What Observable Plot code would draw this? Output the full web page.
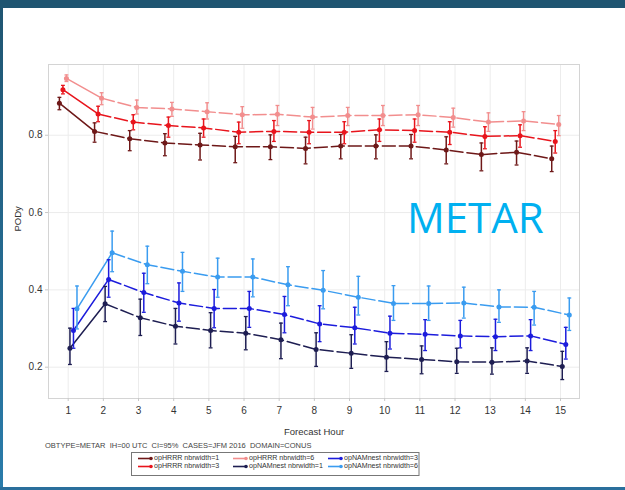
<!DOCTYPE html>
<html>
<head>
<meta charset="utf-8">
<script src="https://cdn.jsdelivr.net/npm/d3@7"></script>
<script src="https://cdn.jsdelivr.net/npm/@observablehq/plot@0.6"></script>
<style>
  html, body { margin: 0; padding: 0; background: #fff; }
  #page { position: relative; width: 625px; height: 490px; overflow: hidden; background: #fff;
          font-family: "Liberation Sans", Arial, sans-serif; }
  #topbar { position: absolute; left: 0; top: 0; width: 625px; height: 8px; background: #1f5571; }
  #leftbar { position: absolute; left: 0; top: 0; width: 3px; height: 490px;
             background: linear-gradient(#1f5571, #2a7cab); }
  #bottombar { position: absolute; left: 0; top: 487px; width: 625px; height: 3px; background: #2a6f9c; }
  #chart { position: absolute; left: 0; top: 0; }
  #below { position: absolute; left: 0; top: 440px; }
  #stamp { position: absolute; left: 0; top: 0; pointer-events: none; }
</style>
</head>
<body>
<div id="page">
  <div id="chart"></div>
  <svg id="below" width="625" height="50"></svg>
  <svg id="stamp" width="625" height="440">
    <text x="407" y="233" font-family="'Open Sans', sans-serif" font-size="42" fill="#00b0f0">METAR</text>
  </svg>
  <div id="topbar"></div>
  <div id="leftbar"></div>
  <div id="bottombar"></div>
</div>
<script>
// Forecast hours and PODy (probability of detection, yes) with 95% CI bounds
const hours = [1, 2, 3, 4, 5, 6, 7, 8, 9, 10, 11, 12, 13, 14, 15];

const hrrr1   = [0.883, 0.810, 0.791, 0.780, 0.775, 0.770, 0.770, 0.766, 0.772, 0.772, 0.772, 0.762, 0.750, 0.756, 0.739];
const hrrr1Lo = [0.866, 0.782, 0.760, 0.747, 0.736, 0.729, 0.737, 0.726, 0.739, 0.739, 0.739, 0.726, 0.708, 0.723, 0.706];
const hrrr1Hi = [0.898, 0.832, 0.812, 0.804, 0.805, 0.797, 0.801, 0.795, 0.802, 0.801, 0.802, 0.796, 0.780, 0.785, 0.772];

const hrrr3   = [0.918, 0.855, 0.834, 0.825, 0.819, 0.808, 0.810, 0.808, 0.808, 0.814, 0.812, 0.808, 0.797, 0.799, 0.784];
const hrrr3Lo = [0.907, 0.835, 0.814, 0.795, 0.795, 0.778, 0.784, 0.778, 0.778, 0.784, 0.782, 0.776, 0.765, 0.769, 0.754];
const hrrr3Hi = [0.929, 0.875, 0.853, 0.847, 0.842, 0.834, 0.838, 0.838, 0.835, 0.842, 0.842, 0.835, 0.822, 0.827, 0.812];

const hrrr6   = [0.947, 0.896, 0.872, 0.868, 0.861, 0.853, 0.854, 0.847, 0.851, 0.851, 0.853, 0.846, 0.834, 0.837, 0.828];
const hrrr6Lo = [0.939, 0.879, 0.855, 0.849, 0.842, 0.818, 0.825, 0.816, 0.825, 0.825, 0.825, 0.821, 0.810, 0.812, 0.799];
const hrrr6Hi = [0.956, 0.910, 0.891, 0.885, 0.884, 0.874, 0.877, 0.872, 0.872, 0.877, 0.877, 0.870, 0.858, 0.861, 0.851];

const nam1   = [0.249, 0.364, 0.328, 0.306, 0.295, 0.288, 0.271, 0.246, 0.236, 0.226, 0.220, 0.214, 0.213, 0.216, 0.202];
const nam1Lo = [0.207, 0.318, 0.282, 0.260, 0.250, 0.245, 0.222, 0.202, 0.197, 0.189, 0.183, 0.184, 0.182, 0.184, 0.168];
const nam1Hi = [0.301, 0.409, 0.376, 0.352, 0.341, 0.331, 0.314, 0.289, 0.284, 0.266, 0.255, 0.249, 0.250, 0.250, 0.241];

const nam3   = [0.295, 0.427, 0.393, 0.366, 0.352, 0.352, 0.336, 0.312, 0.302, 0.288, 0.285, 0.281, 0.279, 0.281, 0.259];
const nam3Lo = [0.249, 0.381, 0.342, 0.319, 0.302, 0.303, 0.289, 0.266, 0.260, 0.247, 0.243, 0.250, 0.243, 0.243, 0.221];
const nam3Hi = [0.352, 0.478, 0.443, 0.418, 0.401, 0.396, 0.383, 0.359, 0.355, 0.332, 0.323, 0.321, 0.324, 0.323, 0.303];

const nam6   = [0.351, 0.496, 0.465, 0.448, 0.433, 0.433, 0.413, 0.399, 0.381, 0.365, 0.365, 0.366, 0.356, 0.355, 0.335];
const nam6Lo = [0.299, 0.447, 0.416, 0.396, 0.381, 0.382, 0.359, 0.351, 0.335, 0.321, 0.321, 0.327, 0.316, 0.309, 0.295];
const nam6Hi = [0.410, 0.552, 0.513, 0.497, 0.482, 0.480, 0.460, 0.450, 0.435, 0.411, 0.410, 0.407, 0.400, 0.396, 0.379];

const seriesNames = [
  "opHRRR nbrwidth=1", "opHRRR nbrwidth=3", "opHRRR nbrwidth=6",
  "opNAMnest nbrwidth=1", "opNAMnest nbrwidth=3", "opNAMnest nbrwidth=6"
];
const yTicks = [0.2, 0.4, 0.6, 0.8];

const caption = "OBTYPE=METAR  IH=00 UTC  CI=95%  CASES=JFM 2016  DOMAIN=CONUS";

// Styling: colour per series and a small horizontal dodge so error bars don't overlap
const colors = ["#6e1818", "#e8141c", "#f28e8e", "#1e1e52", "#1c1cdc", "#3a9cf0"];
const dodge = [-0.25, -0.15, -0.05, 0.05, 0.15, 0.25];
const capHalf = 0.055;

const values = [hrrr1, hrrr3, hrrr6, nam1, nam3, nam6];
const lows = [hrrr1Lo, hrrr3Lo, hrrr6Lo, nam1Lo, nam3Lo, nam6Lo];
const highs = [hrrr1Hi, hrrr3Hi, hrrr6Hi, nam1Hi, nam3Hi, nam6Hi];

const rows = seriesNames.flatMap((name, s) =>
  hours.map((h, i) => ({series: name, hour: h, pos: h + dodge[s], pody: values[s][i], lo: lows[s][i], hi: highs[s][i]}))
);

const font = "'Liberation Sans', Arial, sans-serif";

const chart = Plot.plot({
  width: 625,
  height: 440,
  marginLeft: 48,
  marginRight: 46,
  marginTop: 64,
  marginBottom: 42,
  x: {domain: [0.44, 15.54]},
  y: {domain: [0.119, 0.983]},
  color: {domain: seriesNames, range: colors},
  style: {fontFamily: font, fontSize: "10px", color: "#333", background: "transparent", overflow: "visible"},
  marks: [
    Plot.gridX(hours, {stroke: "#ececec", strokeOpacity: 1}),
    Plot.gridY(yTicks, {stroke: "#ececec", strokeOpacity: 1}),
    Plot.frame({stroke: "#d4d4d4"}),
    Plot.axisX(hours, {tickSize: 3, tickPadding: 5, stroke: "#c8c8c8", fill: "#333", label: null}),
    Plot.axisY(yTicks, {tickSize: 3, tickPadding: 3, stroke: "#c8c8c8", fill: "#333", label: null, tickFormat: d3.format(".1f")}),
    Plot.text(["Forecast Hour"], {frameAnchor: "bottom", dy: 33, lineAnchor: "middle", fontSize: 9.5, fill: "#333"}),
    Plot.text(["PODy"], {frameAnchor: "left", dx: -31, rotate: -90, lineAnchor: "middle", fontSize: 9.5, fill: "#333"}),
    // first segment drawn solid, the rest long-dashed
    Plot.line(rows.filter(d => d.hour <= 2), {x: "pos", y: "pody", z: "series", stroke: "series", strokeWidth: 1.5}),
    Plot.line(rows.filter(d => d.hour >= 2), {x: "pos", y: "pody", z: "series", stroke: "series", strokeWidth: 1.5, strokeDasharray: "13,4"}),
    // 95% confidence intervals
    Plot.ruleX(rows, {x: "pos", y1: "lo", y2: "hi", stroke: "series", strokeWidth: 1.5}),
    Plot.link(rows, {x1: d => d.pos - capHalf, x2: d => d.pos + capHalf, y1: "lo", y2: "lo", stroke: "series", strokeWidth: 1.3}),
    Plot.link(rows, {x1: d => d.pos - capHalf, x2: d => d.pos + capHalf, y1: "hi", y2: "hi", stroke: "series", strokeWidth: 1.3}),
    Plot.dot(rows, {x: "pos", y: "pody", fill: "series", r: 2.5})
  ]
});
document.getElementById("chart").append(chart);

// Caption and legend beneath the chart
const below = d3.select("#below");
below.append("text")
  .attr("x", 45).attr("y", 6).attr("dominant-baseline", "middle")
  .attr("font-family", font).attr("font-size", 7.5).attr("fill", "#444")
  .style("white-space", "pre")
  .text(caption);

below.append("rect")
  .attr("x", 131.5).attr("y", 12.5).attr("width", 287.5).attr("height", 23)
  .attr("fill", "#fff").attr("stroke", "#777").attr("stroke-width", 1);

const colX = [138, 233, 328];
const rowY = [18.5, 26.5];
seriesNames.forEach((name, s) => {
  const cx = colX[Math.floor(s / 2)];
  const cy = rowY[s % 2];
  const g = below.append("g");
  g.append("line").attr("x1", cx).attr("x2", cx + 13).attr("y1", cy).attr("y2", cy)
    .attr("stroke", colors[s]).attr("stroke-width", 1.6);
  g.append("circle").attr("cx", cx + 13).attr("cy", cy).attr("r", 1.8).attr("fill", colors[s]);
  g.append("text").attr("x", cx + 16).attr("y", cy).attr("dominant-baseline", "middle")
    .attr("font-family", font).attr("font-size", 7.1).attr("fill", "#333").text(name);
});
</script>
</body>
</html>
